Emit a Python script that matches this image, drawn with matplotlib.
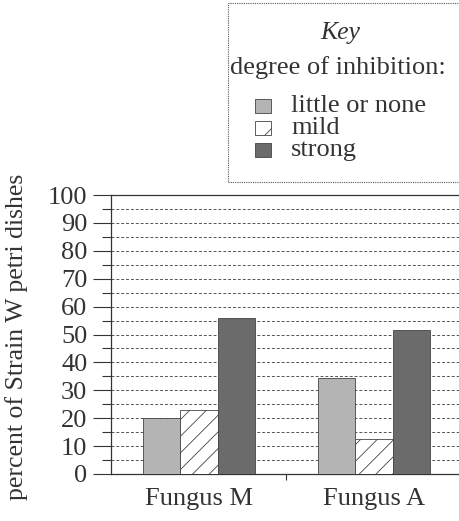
import matplotlib.pyplot as plt
from matplotlib.patches import Rectangle
import numpy as np

# data
groups = ["Fungus M", "Fungus A"]
levels = ["little or none", "mild", "strong"]
little = [20, 34.5]
mild = [23, 12.5]
strong = [56, 51.5]
yticks = list(range(0, 101, 10))

INK = "#333333"
LIGHT = "#b4b4b4"
DARK = "#6b6b6b"
W, H = 459, 521

plt.rcParams["font.family"] = ["Liberation Serif", "DejaVu Serif"]
plt.rcParams["hatch.color"] = "#555555"
plt.rcParams["hatch.linewidth"] = 0.6


def fx(px):
    return px / W


def fy(py):
    return 1 - py / H


fig = plt.figure(figsize=(W / 100, H / 100), dpi=100)
ax = fig.add_axes([fx(111), fy(474), fx(W - 111), (474 - 195) / H])

x = np.arange(len(groups))
bw = 0.214
ax.bar(x - bw, little, bw, color=LIGHT, edgecolor="#444444", lw=0.6, zorder=3)
ax.bar(x, mild, bw, color="white", edgecolor="#444444", lw=0.6, hatch="//", zorder=3)
ax.bar(x + bw, strong, bw, color=DARK, edgecolor="#444444", lw=0.6, zorder=3)

ax.set_xlim(-0.503, 1.486)
ax.set_ylim(0, 100)
ax.set_yticks(yticks)
ax.set_yticks(range(5, 100, 10), minor=True)
ax.tick_params(axis="y", which="major", length=13, width=0.8, color=INK,
               labelsize=19, labelcolor=INK, pad=4)
ax.tick_params(axis="y", which="minor", length=6.5, width=0.8, color=INK)
ax.set_xticks(x)
ax.set_xticklabels(groups)
ax.set_xticks([0.5], minor=True)
ax.tick_params(axis="x", which="major", length=0, labelsize=19,
               labelcolor=INK, pad=10)
ax.tick_params(axis="x", which="minor", length=4, width=0.8, color=INK)

# dashed gridlines every 5
for v in range(5, 100, 5):
    ax.axhline(v, color="#555555", lw=0.7, ls=(0, (3, 2)), zorder=1)

for s in ("left", "bottom", "top"):
    ax.spines[s].set_color(INK)
    ax.spines[s].set_linewidth(0.9)
ax.spines["right"].set_visible(False)

ax.set_ylabel("percent of Strain W petri dishes", fontsize=18.5, color=INK)
ax.yaxis.set_label_coords(fx(28 - 111) / fx(W - 111), (474 - 337) / (474 - 195))

# key box
fig.add_artist(Rectangle((fx(228), fy(182)), fx(250), (182 - 3) / H,
                         transform=fig.transFigure, fill=False,
                         ec="#555555", lw=0.8, ls=(0, (1, 1)), clip_on=False))
fig.text(fx(340), fy(33), "Key", ha="center", va="center", fontsize=18.5,
         style="italic", color=INK)
fig.text(fx(338), fy(68), "degree of inhibition:", ha="center", va="center",
         fontsize=19, color=INK)
swatches = [dict(fc=LIGHT), dict(fc="white", hatch="/"), dict(fc=DARK)]
for i, (lab, kw) in enumerate(zip(levels, swatches)):
    yc = 106 + i * 22
    fig.add_artist(Rectangle((fx(255), fy(yc + 7)), fx(16), 14 / H,
                             transform=fig.transFigure, ec="#444444",
                             lw=0.6, **kw))
    fig.text(fx(291), fy(yc), lab, ha="left", va="center", fontsize=19,
             color=INK)

fig.savefig("out.png", dpi=100, facecolor="white")
